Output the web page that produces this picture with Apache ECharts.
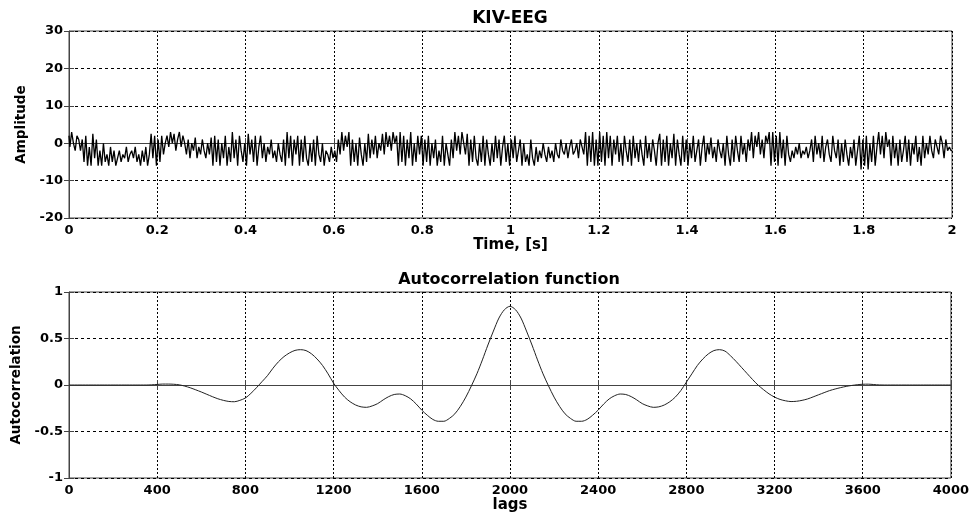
<!DOCTYPE html>
<html>
<head>
<meta charset="utf-8">
<script src="https://cdn.jsdelivr.net/npm/echarts@6/dist/echarts.min.js"></script>
<style>
  html, body { margin: 0; padding: 0; background: #fff; }
  #chart { width: 972px; height: 517px; }
</style>
</head>
<body>
<div id="chart"></div>
<script>
// EEG trace, sampled every 4 ms over 2 s (501 samples, amplitude units)
const eegStep = 0.004;
const eegValues = [
  2, -1, 3, 0, -2, 2, 1, -2, 1, -5, 2, -6, -1, -6, 2.5, -4, 1, -6, -2, -6, 0, -5, -3, -6, -1,
  -5, -2, -6, -4, -2, -5, -3, -4, -1, -5, -3, -2, -4, -1, -5, -3, -6, -2, -5, -1, -6, -3, 2.5, -4, 2,
  -6, 1, -5, 2, -3, 0, 2, -1, 3, 0, 2.5, -2, 1, 3, -1, 2, 0, -3, 1, -4, 0, -2, 1.5, -4, -1,
  -3, 1, -2, -4, 0, -3, 1.5, -6, 2, -5, 1, -6, 0, -4, 2, -6, -1, -5, 3, -4, 1, -6, 2, -2, -5,
  0, -6, 2.5, -3, 1, -5, 2, -6, -1, 2, -4, 0, -5, -1, -3, 1, -4, -2, -5, 0, -3, -5, 1, -6, 3,
  -4, 2, -6, 1, -3, 2, -6, 1, -5, 2, -4, -6, 0, -5, 1, -6, 2, -3, -5, 0, -6, -2, -3, -5, -1,
  -4, -2, -5, 1, -3, 3, -2, 2, -1, 3, -6, 1, -5, 0, -6, 1.5, -3, -6, 0, -5, 2.5, -4, 1, -3, 2,
  -4, 0, -2, 2.5, -3, 3, -1, 2, -2, 3, 0, 2, -6, 3, -5, 2, -6, 1, -4, 3, -6, 0, -5, 2, -3,
  2, -6, 1, -5, 2, -6, 0, -4, 1, -6, -2, -5, 2, -6, 0, -3, -6, 1, -4, 3, -2, 2, -3, 3, 0,
  -3, 2.5, -6, 1, -5, 2, -4, -6, 0, -5, 2, -6, 1, -3, -6, 0, -5, 2, -4, 1, -6, -1, 2, -5, 0,
  -6, 1, -4, 2, -5, -2, 1, -6, 0, -5, -3, -6, 1, -4, -6, -1, -5, -2, -4, 0, -3, -5, -1, -4, -2,
  -5, 0, -3, -4, 1, -2, -3, 0, -4, -1, 1, -3, -2, 0, -4, 1, -1, -3, 3, -6, 2, -5, 3, -6, 1,
  -6, 3, -5, 2, -6, 3, -4, 2, -6, 1, -3, 2, -5, 0, -6, 2, -2, -5, 1, -6, 2, -4, 0, -5, 1,
  -3, -6, 2, -4, 0, -5, 1, -2, -6, 0, 2.5, -6, 1, -5, 2, -6, 0, -4, 2.5, -6, 1, -3, -6, 2, -5,
  1, -6, 0, -4, 2, -5, -2, 1, -6, -1, 2, -5, 0, -3, 1.5, -4, -1, -5, 1, -2, -4, 0, -6, 2, -3,
  -6, 1, -5, 2, -2, -5, 2, -3, 0, -5, 1, -2, 3, -4, 2, -1, 3, -3, 1, -4, 2, 0, 3, -6, 3,
  -5, 2, -6, 3, -4, 1, -6, 2, -3, -5, -2, -4, -1, -3, 0, -4, -2, -3, -1, -4, -2, 1, -5, 2, -3,
  0, -4, 2, -5, -1, 1, -3, -5, 2, -2, -4, 1, -6, 0, -5, 1, -3, -6, -1, -4, 1, -6, -2, 2, -7,
  1, -6, 2, -7, 0, -5, 2, -6, -1, 3, -3, 2, -4, 3, -1, 1, -6, 2, -4, 0, -6, 1, -5, -2, 2,
  -5, 1, -6, 0, -3, 2, -5, -1, -6, 2, -4, 0, -3, 2, -2, -4, 1, -1, -3, 2, 0, -4, 1, -2, -1,
  -2
];

// Autocorrelation, one value every 25 lags from 0 to 4000 (8 values per row = 200 lags)
const lagStep = 25;
const acfValues = [
  0, 0, 0, 0, 0, 0, 0, 0,                                             // 0 - 175
  0, 0, 0, 0, 0, 0, 0, 0.002,                                         // 200 - 375
  0.006, 0.01, 0.01, 0.008, 0.002, -0.012, -0.03, -0.052,             // 400 - 575
  -0.075, -0.1, -0.125, -0.148, -0.165, -0.177, -0.18, -0.165,        // 600 - 775
  -0.14, -0.09, -0.03, 0.035, 0.10, 0.18, 0.25, 0.305,                // 800 - 975
  0.345, 0.372, 0.38, 0.37, 0.335, 0.28, 0.21, 0.12,                  // 1000 - 1175
  0.02, -0.06, -0.13, -0.18, -0.215, -0.235, -0.24, -0.225,           // 1200 - 1375
  -0.20, -0.16, -0.125, -0.102, -0.097, -0.115, -0.15, -0.205,        // 1400 - 1575
  -0.27, -0.325, -0.37, -0.39, -0.39, -0.36, -0.31, -0.23,            // 1600 - 1775
  -0.13, -0.01, 0.12, 0.27, 0.43, 0.58, 0.72, 0.81,                   // 1800 - 1975
  0.846, 0.81, 0.72, 0.58, 0.43, 0.27, 0.12, -0.01,                   // 2000 - 2175
  -0.13, -0.23, -0.31, -0.36, -0.39, -0.39, -0.37, -0.325,            // 2200 - 2375
  -0.27, -0.205, -0.15, -0.115, -0.097, -0.102, -0.125, -0.16,        // 2400 - 2575
  -0.20, -0.225, -0.24, -0.235, -0.215, -0.18, -0.13, -0.06,          // 2600 - 2775
  0.03, 0.12, 0.21, 0.28, 0.335, 0.37, 0.38, 0.365,                   // 2800 - 2975
  0.315, 0.255, 0.19, 0.125, 0.06, 0.0, -0.05, -0.095,                // 3000 - 3175
  -0.13, -0.155, -0.17, -0.178, -0.175, -0.165, -0.15, -0.128,        // 3200 - 3375
  -0.105, -0.082, -0.06, -0.043, -0.028, -0.015, -0.005, 0.003,       // 3400 - 3575
  0.008, 0.009, 0.005, 0.001, 0, 0, 0, 0,                             // 3600 - 3775
  0, 0, 0, 0, 0, 0, 0, 0,                                             // 3800 - 3975
  0                                                                   // 4000
];

const eegData = eegValues.map((v, i) => [+(i * eegStep).toFixed(3), v]);
const acfData = acfValues.map((v, i) => [i * lagStep, v]);

const FONT = 'DejaVu Sans';
const labelStyle = { fontFamily: FONT, fontWeight: 'bold', fontSize: 13, color: '#000' };
const hGrid = { show: true, lineStyle: { color: '#000', type: [3, 3], width: 1 } };
const vGrid = { show: true, lineStyle: { color: '#000', type: [2, 2], width: 1 } };
const axisLine = { show: true, lineStyle: { color: '#444', width: 1 } };
const tick = { show: true, inside: true, length: 5, lineStyle: { color: '#444' } };

function xAx(gridIndex, min, max, interval, name, gap) {
  return {
    type: 'value', gridIndex, min, max, interval,
    name, nameLocation: 'middle', nameGap: gap,
    nameTextStyle: { fontFamily: FONT, fontWeight: 'bold', fontSize: 15, color: '#000' },
    axisLine, axisTick: tick, splitLine: vGrid,
    axisLabel: Object.assign({ margin: 6, formatter: v => String(v) }, labelStyle)
  };
}
function yAx(gridIndex, min, max, interval, name, gap) {
  return {
    type: 'value', gridIndex, min, max, interval,
    name, nameLocation: 'middle', nameGap: gap, nameRotate: 90,
    nameTextStyle: { fontFamily: FONT, fontWeight: 'bold', fontSize: 13.5, color: '#000' },
    axisLine, axisTick: tick, splitLine: hGrid,
    axisLabel: Object.assign({ margin: 6, formatter: v => String(v) }, labelStyle)
  };
}
// Mirror axes on top/right carry only the inward tick marks of the box
function xMirror(gridIndex, min, max, interval) {
  return { type: 'value', gridIndex, min, max, interval, position: 'top',
    axisLine: { show: false }, axisTick: tick, axisLabel: { show: false }, splitLine: { show: false } };
}
function yMirror(gridIndex, min, max, interval) {
  return { type: 'value', gridIndex, min, max, interval, position: 'right',
    axisLine: { show: false }, axisTick: tick, axisLabel: { show: false }, splitLine: { show: false } };
}

const chart = echarts.init(document.getElementById('chart'), null, { renderer: 'canvas' });
chart.setOption({
  animation: false,
  backgroundColor: '#fff',
  title: [
    { text: 'KIV-EEG', left: 505, top: 5, textAlign: 'center',
      textStyle: { fontFamily: FONT, fontWeight: 'bold', fontSize: 17, color: '#000' } },
    { text: 'Autocorrelation function', left: 504, top: 267, textAlign: 'center',
      textStyle: { fontFamily: FONT, fontWeight: 'bold', fontSize: 16, color: '#000' } }
  ],
  grid: [
    { left: 69, right: 20, top: 31, height: 187, show: true, borderColor: '#444', borderWidth: 1 },
    { left: 69, right: 20, top: 292, height: 186, show: true, borderColor: '#444', borderWidth: 1 }
  ],
  xAxis: [
    xAx(0, 0, 2, 0.2, 'Time, [s]', 18),
    xAx(1, 0, 4000, 400, 'lags', 15),
    xMirror(0, 0, 2, 0.2),
    xMirror(1, 0, 4000, 400)
  ],
  yAxis: [
    yAx(0, -20, 30, 10, 'Amplitude', 39),
    yAx(1, -1, 1, 0.5, 'Autocorrelation', 44),
    yMirror(0, -20, 30, 10),
    yMirror(1, -1, 1, 0.5)
  ],
  series: [
    { type: 'line', xAxisIndex: 0, yAxisIndex: 0, data: eegData, showSymbol: false, step: 'middle',
      lineStyle: { color: '#000', width: 1.3 }, silent: true },
    { type: 'line', xAxisIndex: 1, yAxisIndex: 1, data: acfData, showSymbol: false, smooth: 0.3,
      lineStyle: { color: '#222', width: 1 }, silent: true }
  ]
});
</script>
</body>
</html>
